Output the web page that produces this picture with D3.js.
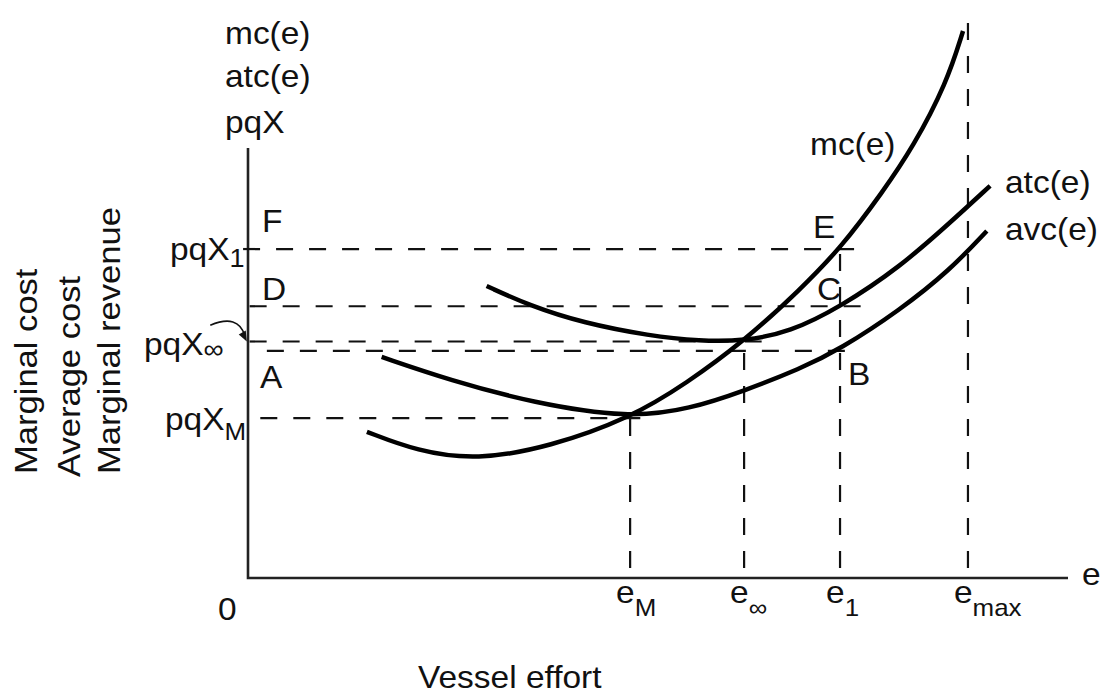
<!DOCTYPE html>
<html>
<head>
<meta charset="utf-8">
<script src="https://cdn.jsdelivr.net/npm/d3@7/dist/d3.min.js"></script>
<style>
  html, body { margin: 0; padding: 0; background: #fff; }
  svg { display: block; }
  text { font-family: "Liberation Sans", Arial, Helvetica, sans-serif; fill: #111; }
</style>
</head>
<body>
<svg id="chart" width="1110" height="695"></svg>
<script>
// ---------- data (abstract units: effort 0..100, cost 0..100) ----------
const mcEffort  = [14.5, 20.6, 27.9, 36.8, 46.6, 53.5, 60.5, 67.3, 72.4, 77.4, 81.1, 85.2, 87.2];
const mcCost    = [34.0, 29.5, 27.4, 30.5, 37.2, 45.3, 55.1, 67.0, 77.0, 89.8, 100.2, 115.1, 127.2];

const atcEffort = [29.1, 34.4, 40.9, 49.0, 55.1, 60.5, 66.1, 72.2, 79.5, 85.6, 90.5];
const atcCost   = [67.9, 63.3, 59.3, 56.3, 55.1, 55.1, 57.2, 63.0, 72.3, 82.6, 91.2];

const avcEffort = [16.3, 24.6, 34.8, 46.5, 53.9, 60.6, 67.3, 72.2, 79.5, 85.6, 90.1];
const avcCost   = [51.4, 46.0, 40.7, 37.2, 39.3, 43.6, 48.6, 53.2, 62.3, 71.6, 80.7];

// effort reference levels (vertical dashed lines)
const effortNames  = ["e", "e", "e", "e"];
const effortSubs   = ["M", "\u221E", "1", "max"];
const effortValues = [46.6, 60.5, 72.2, 87.8];
const effortTops   = [37.2, 55.0, 76.5, 131.4];

// cost reference levels (horizontal dashed lines)
const costLevels = [76.5, 63.2, 55.0, 52.8, 37.2];
const costStarts = [-0.6, 0.2, 0.2, 2.3, 1.5];
const costEnds   = [75.2, 75.2, 63.4, 74.4, 48.7];

// ---------- layout ----------
const svg = d3.select("#chart");
const x = d3.scaleLinear().domain([0, 100]).range([248, 1068]);
const y = d3.scaleLinear().domain([0, 100]).range([578, 148]);

const FS = 31, SX = 1.08;

// axes (drawn from the scales)
svg.append("path")
  .attr("d", `M${x(0)},${y(100)}V${y(0)}H${x(100)}`)
  .attr("fill", "none").attr("stroke", "#222").attr("stroke-width", 2.6);

// horizontal dashed lines
costLevels.forEach((c, i) => {
  svg.append("line")
    .attr("x1", x(costStarts[i])).attr("x2", x(costEnds[i]))
    .attr("y1", y(c)).attr("y2", y(c))
    .attr("stroke", "#111").attr("stroke-width", 2.2)
    .attr("stroke-dasharray", "17,16");
});

// vertical dashed lines (drawn upward from the axis)
effortValues.forEach((e, i) => {
  svg.append("line")
    .attr("x1", x(e)).attr("x2", x(e))
    .attr("y1", y(0)).attr("y2", y(effortTops[i]))
    .attr("stroke", "#111").attr("stroke-width", 2.2)
    .attr("stroke-dasharray", "17,16").attr("stroke-dashoffset", 23);
});

// curves
const line = d3.line().x(d => x(d[0])).y(d => y(d[1])).curve(d3.curveBasis);
[[mcEffort, mcCost], [atcEffort, atcCost], [avcEffort, avcCost]].forEach(([ex, cy]) => {
  svg.append("path")
    .attr("d", line(ex.map((v, i) => [v, cy[i]])))
    .attr("fill", "none").attr("stroke", "#000").attr("stroke-width", 4.5)
    .attr("stroke-linecap", "butt");
});

// ---------- text helper ----------
function label(px, py, main, sub, subSize, subDy, opts = {}) {
  const size = opts.size || FS;
  const rot = opts.rotate ? ` rotate(${opts.rotate})` : "";
  const t = svg.append("text")
    .attr("transform", `translate(${px},${py})${rot} scale(${SX},1)`)
    .attr("font-size", size);
  t.append("tspan").text(main);
  if (sub) t.append("tspan").attr("font-size", subSize).attr("dy", subDy).text(sub);
  return t;
}

// y-axis title block (top)
label(225, 44, "mc(e)");
label(225, 87, "atc(e)");
label(225, 133, "pqX");

// rotated axis titles
label(37, 474, "Marginal cost", null, 0, 0, {rotate: -90, size: 32});
label(80, 477, "Average cost", null, 0, 0, {rotate: -90, size: 32});
label(120, 474, "Marginal revenue", null, 0, 0, {rotate: -90, size: 32});

// cost level labels
label(170, y(costLevels[0]) + 11, "pqX", "1", 25, 7);
label(144, y(costLevels[2]) + 13, "pqX", "\u221E", 26, 3);
label(165, y(costLevels[4]) + 12, "pqX", "M", 24, 10);

// region letters
label(262, 232, "F");
label(262, 300, "D");
label(260, 388, "A");
label(813, 238, "E");
label(817, 300, "C");
label(848, 385, "B");

// curve names
label(810, 155, "mc(e)");
label(1005, 193, "atc(e)");
label(1005, 240, "avc(e)");

// x-axis labels
label(218, 620, "0");
label(1082, 585, "e");
effortValues.forEach((e, i) => {
  label(x(e) - 14, 603, effortNames[i], effortSubs[i], 24, 13);
});
label(418, 688, "Vessel effort");

// arrow from pqX∞ label to the axis
const arrowStart = [x(-4.6), y(58.8)];
const arrowEnd = [x(-0.15), y(55.0)];
svg.append("path")
  .attr("d", `M${arrowStart[0]},${arrowStart[1]} Q${x(-1.2)},${y(61.5)} ${arrowEnd[0] - 2},${arrowEnd[1] - 6}`)
  .attr("fill", "none").attr("stroke", "#111").attr("stroke-width", 1.6);
svg.append("path")
  .attr("d", `M${arrowEnd[0]},${arrowEnd[1]} L${arrowEnd[0] - 8},${arrowEnd[1] - 7} L${arrowEnd[0] - 1},${arrowEnd[1] - 11} Z`)
  .attr("fill", "#111");
</script>
</body>
</html>
